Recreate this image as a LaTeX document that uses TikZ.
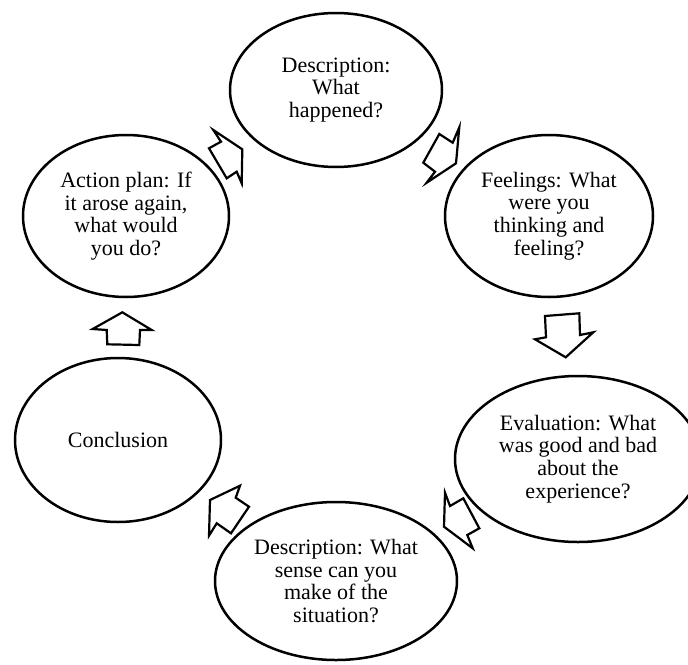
\documentclass[tikz,border=0pt]{standalone}
\usepackage{fontspec}
\setmainfont{Liberation Serif}
\usetikzlibrary{shapes.geometric}
\begin{document}
\begin{tikzpicture}[x=1pt,y=-1pt,
  stage/.style={draw, line width=2.5pt, ellipse, inner sep=0pt, align=center,
    font=\fontsize{22}{22.7}\selectfont},
  blockarrow/.style={draw, line width=2.2pt, line join=miter, fill=white}]
\useasboundingbox (0,0) rectangle (688,664);
\clip (0,0) rectangle (688,664);
% stages
\node[stage, minimum width=212pt, minimum height=154pt] (desc) at (336,90) {Description:\\What\\happened?};
\node[stage, minimum width=208pt, minimum height=162pt] (feel) at (549,216) {Feelings: What\\were you\\thinking and\\feeling?};
\node[stage, minimum width=246pt, minimum height=166pt] (eval) at (578,459) {Evaluation: What\\was good and bad\\about the\\experience?};
\node[stage, minimum width=242pt, minimum height=158pt] (sense) at (336,581) {Description: What\\sense can you\\make of the\\situation?};
\node[stage, minimum width=206pt, minimum height=164pt] (concl) at (118,440) {Conclusion};
\node[stage, minimum width=206pt, minimum height=162pt] (act) at (126,216) {Action plan: If\\it arose again,\\what would\\you do?};
% block arrows
% action -> description
\draw[blockarrow] (242.3,149.3) -- (241.7,183.3) -- (236.7,171.7) -- (226.7,178.3) -- (209,148.3) -- (221,141.7) -- (213.3,130) -- cycle;
% description -> feelings
\draw[blockarrow] (439.3,134) -- (452.7,142.7) -- (459.3,127.3) -- (456,163.3) -- (426.7,182.7) -- (435,171.7) -- (423.3,162.7) -- cycle;
% feelings -> evaluation
\draw[blockarrow] (545,316) -- (579.3,313.3) -- (580,335) -- (593.3,332.3) -- (565.7,357.3) -- (535,339.3) -- (546,337.3) -- cycle;
% evaluation -> sense
\draw[blockarrow] (445,492.7) -- (450,506) -- (463.3,498.3) -- (479.3,528.3) -- (467.3,535) -- (472.7,548.3) -- (444,526.7) -- cycle;
% sense -> conclusion
\draw[blockarrow] (240,485.7) -- (235.7,497.7) -- (249,506.7) -- (231,533.3) -- (216.7,523.3) -- (209,535.7) -- (210,500) -- cycle;
% conclusion -> action
\draw[blockarrow] (122.3,312.3) -- (151.7,330) -- (140,330) -- (139.3,345) -- (107.3,344.3) -- (106.7,330) -- (92.7,329) -- cycle;
\end{tikzpicture}
\end{document}
